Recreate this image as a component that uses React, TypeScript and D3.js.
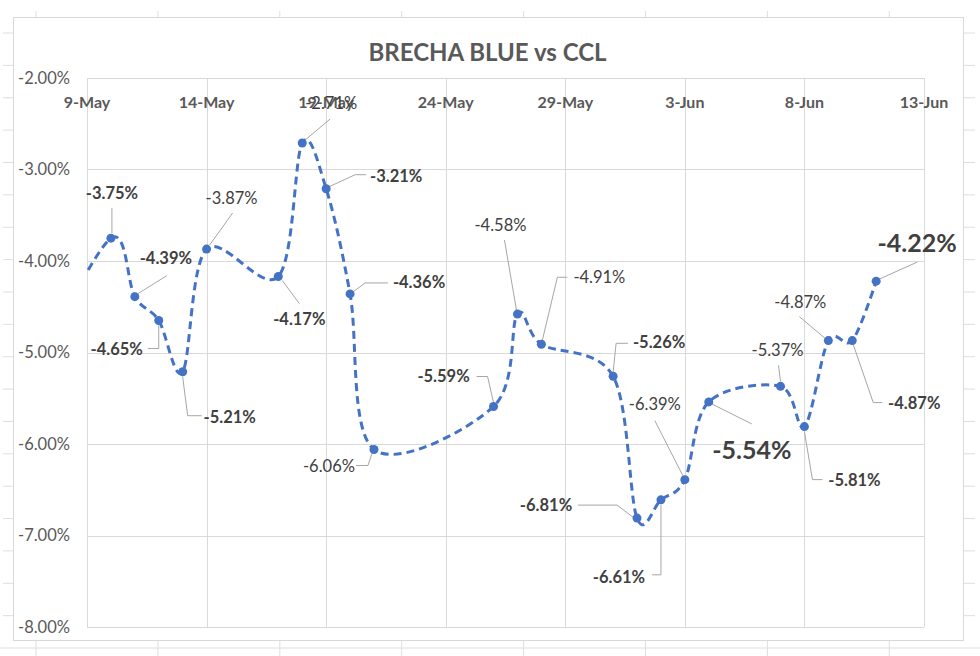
import React from "react";
import * as d3 from "d3";

// ---- data ----
const dates: string[] = [
  "2021-05-07", "2021-05-10", "2021-05-11", "2021-05-12", "2021-05-13", "2021-05-14",
  "2021-05-17", "2021-05-18", "2021-05-19", "2021-05-20", "2021-05-21",
  "2021-05-26", "2021-05-27", "2021-05-28", "2021-05-31",
  "2021-06-01", "2021-06-02", "2021-06-03", "2021-06-04",
  "2021-06-07", "2021-06-08", "2021-06-09", "2021-06-10", "2021-06-11",
];
const values: number[] = [
  -5.1, -3.75, -4.39, -4.65, -5.21, -3.87,
  -4.17, -2.71, -3.21, -4.36, -6.06,
  -5.59, -4.58, -4.91, -5.26,
  -6.81, -6.61, -6.39, -5.54,
  -5.37, -5.81, -4.87, -4.87, -4.22,
];
const yTicks: number[] = [-2, -3, -4, -5, -6, -7, -8];
const xStart = "2021-05-09";
const xEnd = "2021-06-13";
const title = "BRECHA BLUE vs CCL";

// ---- label layout (offsets from point, px) ----
type Lay = { dx: number; dy: number; big?: boolean; bold?: boolean; leader: number[][] } | null;
const labelLayout: Lay[] = [
  null,
  { dx: 1, dy: -45, bold: true, leader: [[1, -5], [1, -30]] },
  { dx: 31, dy: -38, bold: true, leader: [[3, -3], [32, -21]] },
  { dx: -42, dy: 29, bold: true, leader: [[0, 5], [0, 28], [-11, 28]] },
  { dx: 47, dy: 46, bold: true, leader: [[0, 5], [5, 44], [19, 44]] },
  { dx: 25, dy: -51, leader: [[3, -4], [26, -36]] },
  { dx: 21, dy: 43, bold: true, leader: [[4, 4], [21, 27]] },
  { dx: 29, dy: -40, leader: [[3, -3], [28, -24]] },
  { dx: 70, dy: -12, bold: true, leader: [[3, -2], [29, -14], [40, -14]] },
  { dx: 69, dy: -12, bold: true, leader: [[3, -2], [15, -11], [38, -11]] },
  { dx: -45, dy: 17, leader: [[-2, 4], [-6, 16], [-18, 16]] },
  { dx: -50, dy: -30, bold: true, leader: [[0, -4], [-6, -30], [-17, -30]] },
  { dx: -17, dy: -89, leader: [[-1, -4], [-13, -74]] },
  { dx: 58, dy: -67, leader: [[1, -4], [16, -67], [26, -67]] },
  { dx: 46, dy: -34, bold: true, leader: [[0, -4], [3, -33], [15, -33]] },
  { dx: -91, dy: -13, bold: true, leader: [[-4, -1], [-20, -13], [-59, -13]] },
  { dx: -42, dy: 77, bold: true, leader: [[0, 5], [0, 75], [-9, 75]] },
  { dx: -30, dy: -75, leader: [[-2, -4], [-30, -59]] },
  { dx: 43, dy: 48, big: true, leader: [[3, 2], [43, 22]] },
  { dx: -3, dy: -36, leader: [[0, -5], [-2, -21]] },
  { dx: 50, dy: 54, bold: true, leader: [[0, 5], [8, 53], [18, 53]] },
  { dx: -28, dy: -38, leader: [[-3, -2], [-29, -24]] },
  { dx: 62, dy: 63, bold: true, leader: [[1, 4], [21, 62], [30, 62]] },
  { dx: 41, dy: -38, big: true, leader: [[3, -2], [41, -19]] },
];

const W = 980, H = 656;
const plot = { left: 87, right: 924, top: 78, bottom: 627 };
const FONT = "Lato, 'Open Sans', sans-serif";
const BLUE = "#4472C4";
const GRID = "#d9d9d9";
const TEXT = "#595959";
const LABEL = "#404040";

const locale = d3.formatLocale({ decimal: ".", thousands: ",", grouping: [3], currency: ["$", ""], minus: "-" });
const fmt2 = locale.format(".2f");

export default function App() {
  const parse = d3.utcParse("%Y-%m-%d");
  const pts = dates.map((d, i) => ({ date: parse(d) as Date, v: values[i] }));
  const x = d3.scaleUtc().domain([parse(xStart) as Date, parse(xEnd) as Date]).range([plot.left, plot.right]);
  const y = d3.scaleLinear().domain([-2, -8]).range([plot.top, plot.bottom]);
  const xTicks = d3.range(0, 36, 5).map((k) => d3.utcDay.offset(parse(xStart) as Date, k));
  const fmtX = d3.utcFormat("%-d-%b");
  const fmtY = (v: number) => fmt2(v) + "%";

  const line = d3
    .line<{ date: Date; v: number }>()
    .x((d) => x(d.date))
    .y((d) => y(d.v))
    .curve(d3.curveCardinal.tension(0));

  // spreadsheet background lines
  const rowYs = d3.range(0, 19).map((k) => 33 + k * 32.37);
  const colXs = d3.range(0, 8).map((k) => 36 + k * 121.9);

  return (
    <svg width={W} height={H} style={{ position: "absolute", left: 0, top: 0, background: "#fff" }}>
      <defs>
        <clipPath id="plotclip">
          <rect x={plot.left} y={plot.top - 10} width={plot.right - plot.left} height={plot.bottom - plot.top + 10} />
        </clipPath>
      </defs>
      {/* spreadsheet cell lines outside the chart */}
      <g stroke="#dedede" strokeWidth={1}>
        {rowYs.map((ry, i) => (
          <g key={"r" + i}>
            <line x1={3} x2={13} y1={ry} y2={ry} />
            <line x1={964} x2={975} y1={ry} y2={ry} />
          </g>
        ))}
        <line x1={0} x2={980} y1={648} y2={648} />
        {colXs.map((cx, i) => (
          <g key={"c" + i}>
            <line x1={cx} x2={cx} y1={11} y2={17} />
            <line x1={cx} x2={cx} y1={641} y2={656} />
          </g>
        ))}
      </g>
      {/* chart border */}
      <rect x={13.5} y={17.5} width={950} height={623} fill="#fff" stroke={GRID} strokeWidth={1} />

      {/* title */}
      <text x={487.5} y={61} textAnchor="middle" fontFamily={FONT} fontWeight={700} fontSize={24} fill={TEXT}>
        {title}
      </text>

      {/* gridlines */}
      <g stroke={GRID} strokeWidth={1}>
        {yTicks.map((t) => (
          <line key={"gy" + t} x1={plot.left} x2={plot.right} y1={Math.round(y(t)) + 0.5} y2={Math.round(y(t)) + 0.5} />
        ))}
        {xTicks.map((t, i) => (
          <line key={"gx" + i} x1={Math.round(x(t)) + 0.5} x2={Math.round(x(t)) + 0.5} y1={plot.top} y2={plot.bottom} />
        ))}
      </g>

      {/* y axis labels */}
      {yTicks.map((t) => (
        <text key={"ly" + t} x={70} y={y(t)} dy="0.35em" textAnchor="end" fontFamily={FONT} fontSize={16.5} fill={TEXT}>
          {fmtY(t)}
        </text>
      ))}
      {/* x axis labels */}
      {xTicks.map((t, i) => (
        <text key={"lx" + i} x={x(t)} y={108} textAnchor="middle" fontFamily={FONT} fontWeight={700} fontSize={16} fill={TEXT}>
          {fmtX(t)}
        </text>
      ))}

      {/* leader lines */}
      <g stroke="#a6a6a6" strokeWidth={1} fill="none">
        {pts.map((p, i) => {
          const L = labelLayout[i];
          if (!L) return null;
          const px = x(p.date), py = y(p.v);
          const d = "M" + L.leader.map(([a, b]) => `${px + a},${py + b}`).join("L");
          return <path key={"ld" + i} d={d} />;
        })}
      </g>

      {/* line */}
      <g clipPath="url(#plotclip)">
        <path d={line(pts) || ""} fill="none" stroke={BLUE} strokeWidth={3} strokeDasharray="8 5" />
      </g>
      {/* markers */}
      {pts.map((p, i) =>
        labelLayout[i] ? <circle key={"m" + i} cx={x(p.date)} cy={y(p.v)} r={4.5} fill={BLUE} /> : null
      )}

      {/* data labels */}
      {pts.map((p, i) => {
        const L = labelLayout[i];
        if (!L) return null;
        return (
          <text
            key={"dl" + i}
            x={x(p.date) + L.dx}
            y={y(p.v) + L.dy}
            dy="0.35em"
            textAnchor="middle"
            fontFamily={FONT}
            fontSize={L.big ? 25 : 16.5}
            fontWeight={L.big || L.bold ? 700 : 400}
            fill={LABEL}
          >
            {fmtY(p.v)}
          </text>
        );
      })}
    </svg>
  );
}
